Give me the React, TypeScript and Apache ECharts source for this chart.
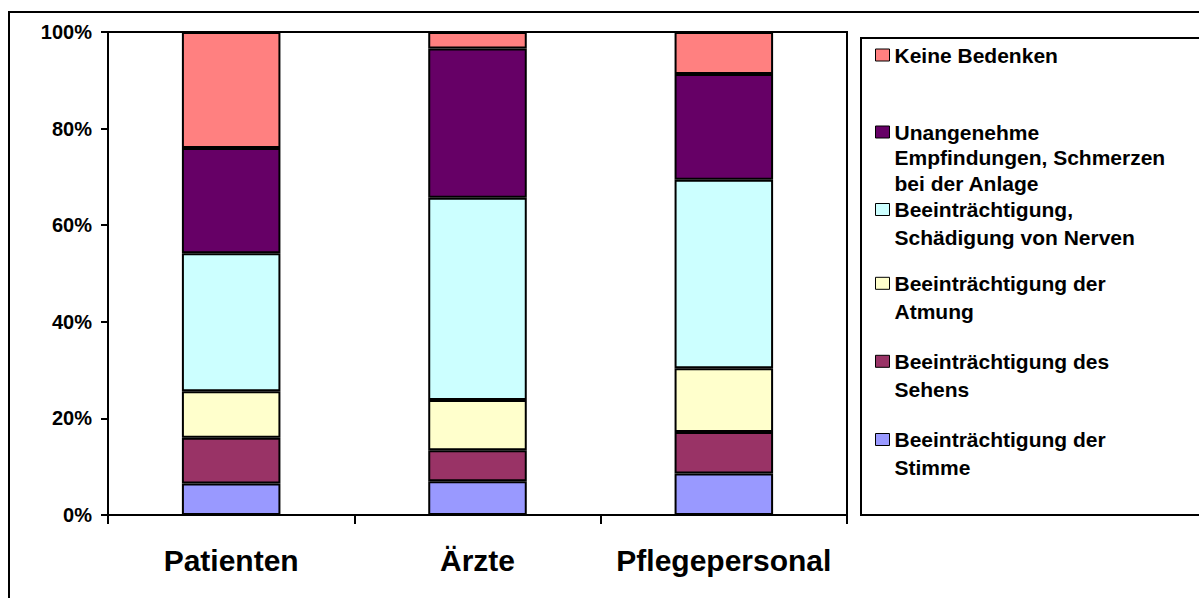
import React, { useEffect, useRef } from "react";
import * as echarts from "echarts";

const categories = ["Patienten", "Ärzte", "Pflegepersonal"];
const stimme = [6.5, 7.0, 8.6];
const sehens = [9.5, 6.4, 8.6];
const atmung = [9.6, 10.4, 13.2];
const nerven = [28.6, 41.9, 39.0];
const unangenehm = [21.8, 30.9, 21.9];
const keine = [24.0, 3.4, 8.7];
const yTicks = [0, 20, 40, 60, 80, 100];

const seriesDefs = [
  { name: "Beeinträchtigung der Stimme", label: "Beeinträchtigung der\nStimme", data: stimme, color: "#9999FF" },
  { name: "Beeinträchtigung des Sehens", label: "Beeinträchtigung des\nSehens", data: sehens, color: "#993366" },
  { name: "Beeinträchtigung der Atmung", label: "Beeinträchtigung der\nAtmung", data: atmung, color: "#FFFFCC" },
  { name: "Beeinträchtigung, Schädigung von Nerven", label: "Beeinträchtigung,\nSchädigung von Nerven", data: nerven, color: "#CCFFFF" },
  { name: "Unangenehme Empfindungen, Schmerzen bei der Anlage", label: "Unangenehme\nEmpfindungen, Schmerzen\nbei der Anlage", data: unangenehm, color: "#660066" },
  { name: "Keine Bedenken", label: "Keine Bedenken", data: keine, color: "#FF8080" },
];

// first-line centre y and line height of each legend entry (same order as seriesDefs)
const legendCenters = [439.5, 361.3, 283.3, 209.5, 132, 55];
const legendLineHeights = [28, 28, 28, 28, 25.5, 28];

const FONT = "'Liberation Sans', Arial, sans-serif";
const IW = 14;
const IH = 12;

export default function App() {
  const ref = useRef<HTMLDivElement>(null);
  useEffect(() => {
    if (!ref.current) return;
    const chart = echarts.init(ref.current, null, { renderer: "svg" });
    const legends = seriesDefs.map((s, i) => {
      const n = s.label.split("\n").length;
      const lh = legendLineHeights[i];
      const H = IH + (n - 1) * lh;
      const icon =
        n === 1
          ? "rect"
          : `path://M0,0L${IW},0L${IW},${IH}L0,${IH}Z M0,${H}L0,${H}`;
      return {
        show: true,
        orient: "vertical",
        left: 875,
        top: legendCenters[i] - lh / 2,
        padding: 0,
        itemWidth: IW,
        itemHeight: H,
        icon,
        selectedMode: false,
        data: [s.name],
        formatter: () => s.label,
        itemStyle: { borderColor: "#000", borderWidth: 1 },
        textStyle: {
          fontFamily: FONT,
          fontWeight: "bold",
          fontSize: 21,
          color: "#000",
          lineHeight: lh,
          backgroundColor: "rgba(0,0,0,0)",
        },
      };
    });
    chart.setOption({
      animation: false,
      backgroundColor: "#fff",
      grid: {
        left: 108,
        top: 32,
        right: 352,
        bottom: 83,
        show: true,
        borderColor: "#000",
        borderWidth: 2,
        backgroundColor: "transparent",
      },
      legend: legends,
      graphic: [
        {
          type: "rect",
          shape: { x: 9, y: 12, width: 1200, height: 600 },
          style: { fill: "none", stroke: "#000", lineWidth: 2 },
          silent: true,
          z: -10,
        },
        {
          type: "rect",
          shape: { x: 861, y: 38, width: 400, height: 477 },
          style: { fill: "none", stroke: "#000", lineWidth: 2 },
          silent: true,
        },
      ],
      xAxis: {
        type: "category",
        data: categories,
        boundaryGap: true,
        axisLine: { lineStyle: { color: "#000", width: 2 } },
        axisTick: { show: true, interval: 0, length: 9, lineStyle: { color: "#000", width: 2 } },
        axisLabel: {
          interval: 0,
          margin: 30,
          fontFamily: FONT,
          fontWeight: "bold",
          fontSize: 30,
          color: "#000",
        },
      },
      yAxis: {
        type: "value",
        min: yTicks[0],
        max: yTicks[yTicks.length - 1],
        interval: 20,
        splitLine: { show: false },
        axisLine: { show: true, lineStyle: { color: "#000", width: 2 } },
        axisTick: { show: true, length: 7, lineStyle: { color: "#000", width: 2 } },
        axisLabel: {
          margin: 16,
          formatter: "{value}%",
          fontFamily: FONT,
          fontWeight: "bold",
          fontSize: 20,
          color: "#000",
        },
      },
      series: seriesDefs.map((s) => ({
        name: s.name,
        type: "bar",
        stack: "total",
        barWidth: "40%",
        data: s.data,
        itemStyle: { color: s.color, borderColor: "#000", borderWidth: 2 },
      })),
    });
    return () => chart.dispose();
  }, []);
  return (
    <div
      ref={ref}
      style={{ position: "fixed", left: 0, top: 0, width: 1199, height: 598 }}
    />
  );
}
